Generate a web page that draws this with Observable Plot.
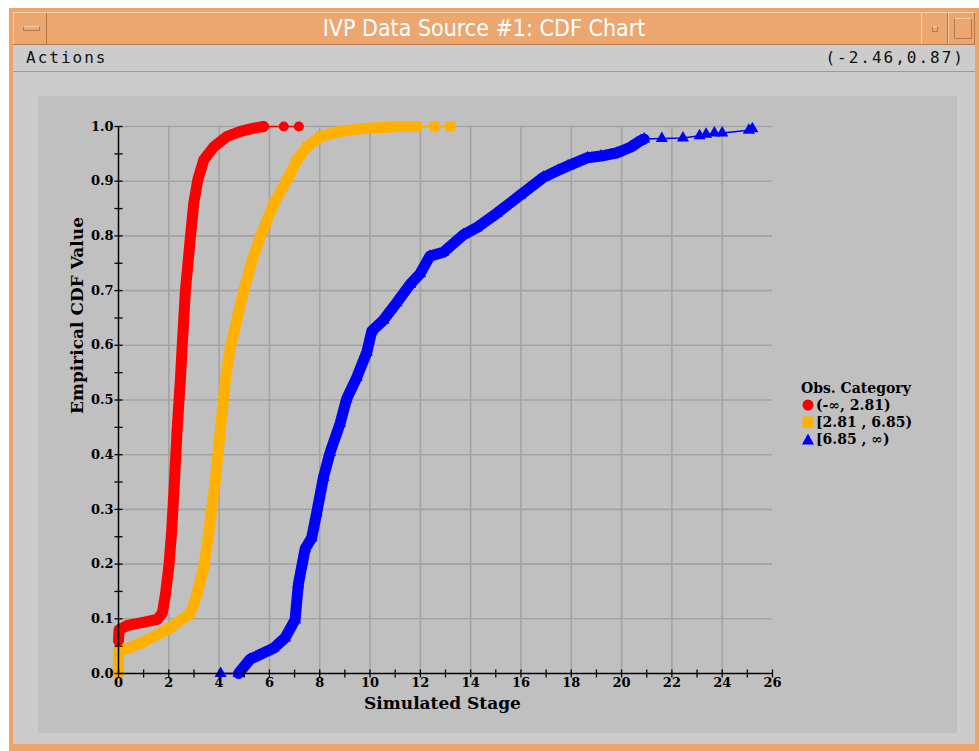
<!DOCTYPE html>
<html>
<head>
<meta charset="utf-8">
<script src="https://cdn.jsdelivr.net/npm/d3@7"></script>
<script src="https://cdn.jsdelivr.net/npm/@observablehq/plot@0.6"></script>
<style>
  html, body { margin: 0; padding: 0; background: #ffffff; width: 979px; height: 751px; overflow: hidden; }
  #frame { position: absolute; left: 9px; top: 8px; width: 970px; height: 743px; background: #eba46c; }
  #titlebar { position: absolute; left: 13px; top: 12px; width: 962px; height: 33px; background: #eca66f;
    border-top: 1px solid #f6cfa8; border-bottom: 1px solid #b8774a; box-sizing: border-box; }
  #title { position: absolute; left: 34px; width: 874px; top: 2px; text-align: center; color: #ffffff;
    font-family: "DejaVu Sans Condensed", "Liberation Sans Narrow", sans-serif; font-size: 23px; }
  .btn { position: absolute; top: 0; height: 31px; border-left: 1px solid #f6cfa8; border-right: 1px solid #b8774a; box-sizing: border-box; }
  #menubar { position: absolute; left: 13px; top: 45px; width: 962px; height: 27px; background: #cccccc;
    border-bottom: 1px solid #9a9a9a; box-sizing: border-box; font-family: "DejaVu Sans Mono", monospace; font-size: 16px; letter-spacing: 2px; color: #111; }
  #main { position: absolute; left: 13px; top: 72px; width: 962px; height: 672px; background: #cccccc; }
  #panel { position: absolute; left: 38px; top: 96px; width: 919px; height: 637px; background: #c0c0c0; }
  #legend { position: absolute; left: 801px; top: 379px; font-family: "DejaVu Serif", serif; font-weight: bold; font-size: 14px; color: #000; }
  #legend .row { height: 17px; display: flex; align-items: center; white-space: nowrap; }
  #legend svg { margin-right: 1px; }
</style>
</head>
<body>
<div id="frame"></div>
<div id="titlebar">
  <div class="btn" style="left:0;width:34px"><div style="position:absolute;left:9px;top:13px;width:15px;height:3px;border:1px solid #b8774a;border-top-color:#f6cfa8;"></div></div>
  <div id="title">IVP Data Source #1: CDF Chart</div>
  <div class="btn" style="left:908px;width:27px"><div style="position:absolute;left:10px;top:13px;width:4px;height:4px;border:1px solid #b8774a;border-top-color:#f6cfa8;"></div></div>
  <div class="btn" style="left:935px;width:27px"><div style="position:absolute;left:5px;top:5px;width:16px;height:19px;border:1px solid #b8774a;border-top-color:#f6cfa8;"></div></div>
</div>
<div id="menubar">
  <span style="position:absolute;left:13px;top:3px;">Actions</span>
  <span style="position:absolute;right:10px;top:3px;">(-2.46,0.87)</span>
</div>
<div id="main"></div>
<div id="panel"></div>
<div id="chart" style="position:absolute;left:38px;top:96px;"></div>
<div id="legend"></div>
<script>
// ---- data ----
const legendTitle = "Obs. Category";
const categories = ["(-\u221e, 2.81)", "[2.81 , 6.85)", "[6.85 , \u221e)"];
const colors = ["#ff0000", "#ffb000", "#0000ff"];

const redX = [0, 0.02, 0.36, 1.02, 1.54, 1.74, 1.87, 2.0, 2.11, 2.2, 2.33, 2.46, 2.53, 2.66, 2.86, 2.99, 3.15, 3.39, 3.79, 4.32, 4.85, 5.38, 5.77, 6.57, 7.17];
const redY = [0.06, 0.08, 0.088, 0.094, 0.099, 0.11, 0.146, 0.195, 0.258, 0.33, 0.445, 0.537, 0.597, 0.70, 0.798, 0.859, 0.902, 0.939, 0.963, 0.982, 0.991, 0.997, 1.0, 1.0, 1.0];
const redDense = [0, 23];

const orangeX = [0, 0, 0.36, 0.87, 2.0, 2.86, 3.13, 3.39, 3.59, 3.72, 3.85, 4.05, 4.25, 4.45, 4.98, 5.31, 5.64, 6.17, 6.70, 7.10, 7.50, 8.03, 8.82, 9.88, 11.2, 11.87, 12.56, 13.19];
const orangeY = [0, 0.04, 0.046, 0.055, 0.082, 0.11, 0.146, 0.195, 0.256, 0.305, 0.354, 0.445, 0.537, 0.597, 0.70, 0.755, 0.798, 0.859, 0.902, 0.939, 0.963, 0.982, 0.991, 0.997, 1.0, 1.0, 1.0, 1.0];
const orangeDense = [0, 26];

const blueX = [4.06, 4.77, 5.23, 6.16, 6.62, 7.02, 7.15, 7.42, 7.68, 7.88, 8.15, 8.41, 8.81, 9.07, 9.47, 9.87, 10.07, 10.53, 11.06, 11.59, 11.99, 12.38, 12.91, 13.71, 14.24, 15.03, 15.96, 16.89, 17.48, 17.87, 18.65, 19.18, 19.83, 20.35, 20.75, 20.9, 21.6, 22.44, 23.1, 23.36, 23.69, 24.0, 25.06, 25.2];
const blueY = [0, 0, 0.026, 0.046, 0.065, 0.098, 0.163, 0.228, 0.248, 0.294, 0.359, 0.404, 0.457, 0.502, 0.541, 0.587, 0.626, 0.646, 0.678, 0.711, 0.731, 0.763, 0.77, 0.802, 0.815, 0.841, 0.874, 0.907, 0.92, 0.928, 0.943, 0.946, 0.952, 0.962, 0.974, 0.977, 0.978, 0.979, 0.983, 0.986, 0.988, 0.988, 0.993, 0.996];
const blueDense = [1, 36];

const xTicks = [0, 2, 4, 6, 8, 10, 12, 14, 16, 18, 20, 22, 24, 26];
const xMinor = [1, 3, 5, 7, 9, 11, 13, 15, 17, 19, 21, 23, 25];
const yTicks = [0, 0.1, 0.2, 0.3, 0.4, 0.5, 0.6, 0.7, 0.8, 0.9, 1.0];
const yMinor = [0.05, 0.15, 0.25, 0.35, 0.45, 0.55, 0.65, 0.75, 0.85, 0.95];
const xLabel = "Simulated Stage";
const yLabel = "Empirical CDF Value";

// ---- drawing ----
const vTick = { draw(ctx) { ctx.moveTo(0, -4); ctx.lineTo(0, 4); } };
const hTick = { draw(ctx) { ctx.moveTo(-4, 0); ctx.lineTo(4, 0); } };
const serif = "'DejaVu Serif', serif";

function series(xs, ys, dense, color, symbol, r) {
  const all = xs.map((x, i) => ({x, y: ys[i]}));
  const band = all.slice(dense[0], dense[1]);
  return [
    Plot.line(all, {x: "x", y: "y", stroke: color, strokeWidth: 1.5}),
    Plot.line(band, {x: "x", y: "y", stroke: color, strokeWidth: 11, strokeLinejoin: "round", strokeLinecap: "round"}),
    Plot.dot(all, {x: "x", y: "y", fill: color, symbol, r})
  ];
}

const chart = Plot.plot({
  width: 919,
  height: 637,
  marginLeft: 80,
  marginRight: 185,
  marginTop: 30,
  marginBottom: 60,
  style: {background: "transparent", fontFamily: serif, fontWeight: "bold", fontSize: "13px", color: "#000"},
  x: {domain: [0, 26]},
  y: {domain: [0, 1]},
  marks: [
    Plot.gridX(xTicks.slice(1, -1), {stroke: "#a3a3a3", strokeOpacity: 1, strokeWidth: 1.6}),
    Plot.gridY(yTicks.slice(1), {stroke: "#a3a3a3", strokeOpacity: 1, strokeWidth: 1.6}),
    ...series(redX, redY, redDense, colors[0], "circle", 5),
    ...series(orangeX, orangeY, orangeDense, colors[1], "square", 5.5),
    ...series(blueX, blueY, blueDense, colors[2], "triangle", 4.5),
    Plot.ruleY([0], {stroke: "#000", strokeWidth: 1.5}),
    Plot.ruleX([0], {stroke: "#000", strokeWidth: 1.5}),
    Plot.dot(xTicks.concat(xMinor), {x: d => d, y: () => 0, symbol: vTick, stroke: "#000", strokeWidth: 1.3, fill: "none", r: 4}),
    Plot.dot(yTicks.concat(yMinor), {x: () => 0, y: d => d, symbol: hTick, stroke: "#000", strokeWidth: 1.3, fill: "none", r: 4}),
    Plot.axisX(xTicks, {tickSize: 0, tickPadding: 4, label: null, fontWeight: "bold", fontSize: 13}),
    Plot.axisY(yTicks, {tickSize: 0, tickPadding: 5, label: null, tickFormat: d3.format(".1f"), fontWeight: "bold", fontSize: 13}),
    Plot.text([xLabel], {frameAnchor: "bottom", dy: 35, dx: -3, fontSize: 17, fontWeight: "bold", fontFamily: serif}),
    Plot.text([yLabel], {frameAnchor: "left", rotate: -90, dx: -41, dy: 14, fontSize: 17, fontWeight: "bold", fontFamily: serif})
  ]
});
document.getElementById("chart").appendChild(chart);

// legend
const legend = document.getElementById("legend");
const head = document.createElement("div");
head.className = "row"; head.textContent = legendTitle;
legend.appendChild(head);
const shapes = [
  c => `<circle cx="7" cy="7" r="5.5" fill="${c}"/>`,
  c => `<rect x="1.5" y="1.5" width="11" height="11" fill="${c}"/>`,
  c => `<path d="M7,1.5 L13,12.5 L1,12.5 Z" fill="${c}"/>`
];
categories.forEach((cat, i) => {
  const row = document.createElement("div");
  row.className = "row";
  row.innerHTML = `<svg width="14" height="14">${shapes[i](colors[i])}</svg><span>${cat}</span>`;
  legend.appendChild(row);
});
</script>
</body>
</html>
